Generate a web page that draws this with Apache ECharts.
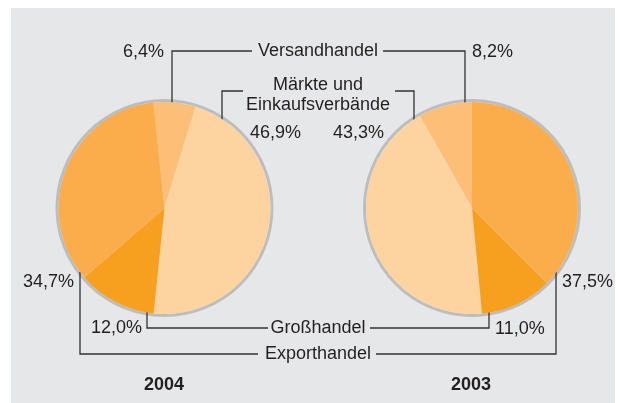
<!DOCTYPE html>
<html lang="de">
<head>
    <meta charset="utf-8">
    <title>Vertriebswege 2004 / 2003</title>
    <script src="https://cdn.jsdelivr.net/npm/echarts@6/dist/echarts.min.js"></script>
    <style>
        html, body { margin: 0; padding: 0; background: #fff; }
        #main { width: 626px; height: 403px; }
    </style>
</head>
<body>
<div id="main"></div>
<script type="text/javascript">
    // Daten
    var categories = ['Versandhandel', 'Märkte und Einkaufsverbände', 'Großhandel', 'Exporthandel'];
    var values2004 = [6.4, 46.9, 12.0, 34.7];
    var values2003 = [8.2, 43.3, 11.0, 37.5];
    var years = ['2004', '2003'];
    var colors = ['#fdbf78', '#fdd49f', '#f79f1f', '#fbad4b'];

    function pct(v) {
        return v.toFixed(1).replace('.', ',') + '%';
    }

    function toData(vals) {
        return vals.map(function (v, i) {
            return {value: v, name: categories[i], itemStyle: {color: colors[i]}};
        });
    }

    var font = 'Liberation Sans, Arial, sans-serif';
    var lineColor = '#333';

    function txt(x, y, s, align, bold) {
        return {
            type: 'text', x: x, y: y, silent: true,
            style: {
                text: s, fill: '#231f20', font: (bold ? 'bold ' : '') + '18px ' + font,
                align: align, verticalAlign: 'middle'
            }
        };
    }

    function line(pts) {
        return {
            type: 'polyline', silent: true,
            shape: {points: pts},
            style: {stroke: lineColor, lineWidth: 1.3, fill: null}
        };
    }

    function ring(cx, cy) {
        return {
            type: 'circle', silent: true, z: -1,
            shape: {cx: cx, cy: cy, r: 107.5},
            style: {fill: null, stroke: '#bcbdbf', lineWidth: 3}
        };
    }

    var myChart = echarts.init(document.getElementById('main'));
    var option = {
        animation: false,
        backgroundColor: '#fff',
        graphic: [
            {type: 'rect', z: -10, silent: true, shape: {x: 11, y: 8, width: 604, height: 395}, style: {fill: '#e6e7e8'}},
            ring(164.5, 208),
            ring(472, 208),
            // Versandhandel
            line([[172, 110], [172, 51], [252, 51]]),
            line([[383, 51], [465, 51], [465, 110]]),
            txt(318, 51, 'Versandhandel', 'center'),
            txt(164, 52, pct(values2004[0]), 'right'),
            txt(472, 52, pct(values2003[0]), 'left'),
            // Märkte und Einkaufsverbände
            line([[222, 130], [222, 91], [243, 91]]),
            line([[395, 91], [414, 91], [414, 130]]),
            txt(318, 85, 'Märkte und', 'center'),
            txt(318, 105, 'Einkaufsverbände', 'center'),
            txt(250, 133, pct(values2004[1]), 'left'),
            txt(384, 133, pct(values2003[1]), 'right'),
            // Exporthandel
            line([[80, 272], [80, 354], [258, 354]]),
            line([[376, 354], [556, 354], [556, 272]]),
            txt(318, 354, 'Exporthandel', 'center'),
            txt(74, 282, pct(values2004[3]), 'right'),
            txt(562, 282, pct(values2003[3]), 'left'),
            // Großhandel
            line([[147, 307], [147, 328], [268, 328]]),
            line([[370, 328], [489, 328], [489, 307]]),
            txt(318, 328, 'Großhandel', 'center'),
            txt(142, 328, pct(values2004[2]), 'right'),
            txt(495, 329, pct(values2003[2]), 'left'),
            // Jahre
            txt(164, 385, years[0], 'center', true),
            txt(471, 385, years[1], 'center', true)
        ],
        series: [
            {
                name: years[0],
                type: 'pie',
                center: [164.5, 208],
                radius: 106,
                startAngle: 96,
                clockwise: true,
                label: {show: false},
                labelLine: {show: false},
                itemStyle: {borderWidth: 0},
                emphasis: {disabled: true},
                data: toData(values2004)
            },
            {
                name: years[1],
                type: 'pie',
                center: [472, 208],
                radius: 106,
                startAngle: 90,
                clockwise: false,
                label: {show: false},
                labelLine: {show: false},
                itemStyle: {borderWidth: 0},
                emphasis: {disabled: true},
                data: toData(values2003)
            }
        ]
    };

    myChart.setOption(option);
</script>
</body>
</html>
